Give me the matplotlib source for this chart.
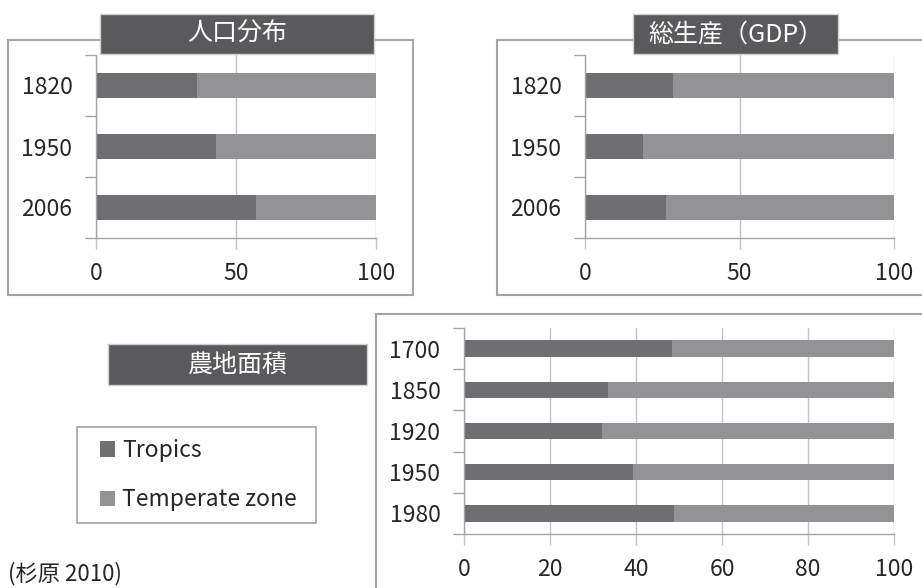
import matplotlib
matplotlib.use("Agg")
import matplotlib.pyplot as plt
from matplotlib.patches import Rectangle

plt.rcParams['font.family'] = ['Noto Sans CJK JP', 'DejaVu Sans']

# data (share of tropics, %; temperate zone is the rest)
series_names = ["Tropics", "Temperate zone"]

pop_years = ["1820", "1950", "2006"]
pop_tropics = [36, 42.7, 57]

gdp_years = ["1820", "1950", "2006"]
gdp_tropics = [28.4, 18.8, 26.2]

farm_years = ["1700", "1850", "1920", "1950", "1980"]
farm_tropics = [48.3, 33.5, 32.2, 39.3, 48.9]

titles = ["人口分布", "総生産（GDP）", "農地面積"]
source_note = "(杉原 2010)"

W, H = 922, 588
dark = "#6f6f71"
light = "#939396"
boxcol = "#5a5a5c"
gridcol = "#c4c4c4"
linecol = "#a4a4a4"
txtcol = "#262626"

fig = plt.figure(figsize=(W / 100, H / 100), dpi=100)


def rect(l, t, r, b):
    # pixel box -> figure fraction [left, bottom, width, height]
    return [l / W, 1 - b / H, (r - l) / W, (b - t) / H]


def frame(l, t, r, b, **kw):
    x, y, w, h = rect(l, t, r, b)
    p = Rectangle((x, y), w, h, transform=fig.transFigure, **kw)
    fig.add_artist(p)
    return p


def panel(box, years, tropics, xticks):
    ax = fig.add_axes(rect(*box))
    ax.set_axisbelow(True)
    pos = list(range(len(years)))
    temperate = [100 - v for v in tropics]
    b1 = ax.barh(pos, tropics, height=0.4, color=dark, label=series_names[0])
    b2 = ax.barh(pos, temperate, left=tropics, height=0.4, color=light,
                 label=series_names[1])
    ax.set_xlim(0, 100)
    ax.set_ylim(len(years) - 0.5, -0.5)
    ax.set_xticks(xticks)
    ax.set_xticklabels([str(v) for v in xticks])
    ax.set_yticks(pos)
    ax.set_yticklabels(years)
    ax.set_yticks([p - 0.5 for p in pos] + [len(years) - 0.5], minor=True)
    ax.tick_params(axis='y', which='major', length=0, pad=17,
                   labelsize=16.5, labelcolor=txtcol)
    ax.tick_params(axis='y', which='minor', length=8, width=1, color=linecol)
    ax.tick_params(axis='x', which='major', length=8, width=1, color=gridcol,
                   pad=9, labelsize=16.5, labelcolor=txtcol)
    ax.grid(axis='x', color=gridcol, linewidth=1)
    for s in ["top", "right"]:
        ax.spines[s].set_visible(False)
    for s in ["left", "bottom"]:
        ax.spines[s].set_color(linecol)
        ax.spines[s].set_linewidth(1)
    ax.patch.set_alpha(0)
    return ax, b1, b2


# outer frames
frame(8, 40, 413, 295, facecolor="white", edgecolor=linecol, lw=1.5, zorder=0)
frame(497, 40, 930, 295, facecolor="white", edgecolor=linecol, lw=1.5, zorder=0)
frame(376, 314, 930, 600, facecolor="white", edgecolor=linecol, lw=1.5, zorder=0)

panel((96, 55, 376, 238), pop_years, pop_tropics, [0, 50, 100])
panel((585, 55, 894, 238), gdp_years, gdp_tropics, [0, 50, 100])
ax3, h1, h2 = panel((464, 328, 894, 534), farm_years, farm_tropics,
                    [0, 20, 40, 60, 80, 100])

# title boxes
for (l, t, r, b), title in zip([(100, 14, 374, 54), (633, 14, 838, 54),
                                 (108, 344, 367, 385)], titles):
    frame(l, t, r, b, facecolor=boxcol, edgecolor="#d0d0d0", lw=1, zorder=5)
    fig.text((l + r) / 2 / W, 1 - (t + b) / 2 / H, title, color="white",
             fontsize=18, ha="center", va="center", zorder=6)

# legend: frame drawn separately so padding can differ per side
frame(77, 427, 316, 523, facecolor="white", edgecolor=linecol, lw=1.2, zorder=1)
leg = fig.legend([h1, h2], series_names, loc="upper left",
                 bbox_to_anchor=(100 / W, 1 - 439 / H), borderaxespad=0,
                 borderpad=0, fontsize=16.5, frameon=False,
                 handlelength=0.65, handleheight=0.65, handletextpad=0.3,
                 labelspacing=1.15)
for t in leg.get_texts():
    t.set_color(txtcol)

fig.text(8 / W, 1 - 580 / H, source_note, fontsize=16, color=txtcol,
         ha="left", va="baseline")

fig.savefig("out.png", dpi=100)
